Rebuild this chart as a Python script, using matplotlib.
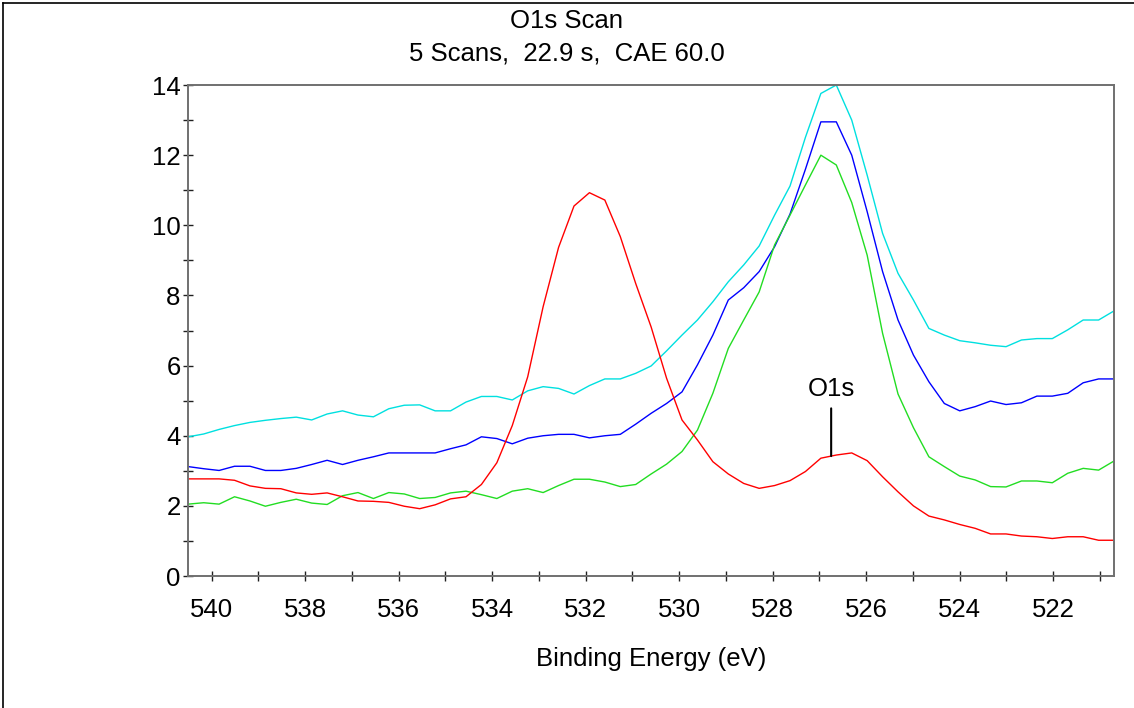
import numpy as np
import matplotlib
matplotlib.use("Agg")
import matplotlib.pyplot as plt
from matplotlib.lines import Line2D
from matplotlib.ticker import MultipleLocator

plt.rcParams['font.family'] = ['Liberation Sans', 'DejaVu Sans']

# Binding energy grid (eV), 0.33 eV steps
energy = [540.50, 540.17, 539.84, 539.51, 539.18, 538.85, 538.52, 538.19, 537.86, 537.53,
          537.20, 536.87, 536.54, 536.21, 535.88, 535.55, 535.22, 534.89, 534.56, 534.23,
          533.90, 533.57, 533.24, 532.91, 532.58, 532.25, 531.92, 531.59, 531.26, 530.93,
          530.60, 530.27, 529.94, 529.61, 529.28, 528.95, 528.62, 528.29, 527.96, 527.63,
          527.30, 526.97, 526.64, 526.31, 525.98, 525.65, 525.32, 524.99, 524.66, 524.33,
          524.00, 523.67, 523.34, 523.01, 522.68, 522.35, 522.02, 521.69, 521.36, 521.03,
          520.70]

# intensities
cyan_counts = [3.97, 4.05, 4.18, 4.29, 4.38, 4.44, 4.49, 4.53, 4.45, 4.62,
               4.71, 4.59, 4.54, 4.77, 4.87, 4.88, 4.71, 4.71, 4.96, 5.12,
               5.12, 5.02, 5.28, 5.40, 5.35, 5.19, 5.43, 5.62, 5.62, 5.78,
               5.99, 6.42, 6.87, 7.30, 7.82, 8.39, 8.87, 9.41, 10.29, 11.12,
               12.51, 13.76, 14.00, 13.00, 11.43, 9.77, 8.63, 7.87, 7.06, 6.87,
               6.71, 6.65, 6.58, 6.54, 6.73, 6.77, 6.77, 7.02, 7.30, 7.30,
               7.56]
blue_counts = [3.12, 3.06, 3.01, 3.13, 3.13, 3.01, 3.01, 3.07, 3.18, 3.30,
               3.18, 3.30, 3.40, 3.51, 3.51, 3.51, 3.51, 3.63, 3.74, 3.97,
               3.92, 3.77, 3.93, 4.00, 4.04, 4.04, 3.94, 4.00, 4.04, 4.33,
               4.64, 4.92, 5.25, 6.02, 6.87, 7.87, 8.22, 8.68, 9.39, 10.32,
               11.60, 12.95, 12.95, 12.00, 10.39, 8.68, 7.30, 6.30, 5.54, 4.92,
               4.71, 4.83, 4.99, 4.89, 4.94, 5.13, 5.13, 5.21, 5.51, 5.62,
               5.62]
green_counts = [2.05, 2.09, 2.05, 2.26, 2.14, 1.99, 2.10, 2.19, 2.08, 2.04,
                2.29, 2.38, 2.21, 2.38, 2.34, 2.21, 2.24, 2.37, 2.42, 2.32,
                2.21, 2.42, 2.49, 2.38, 2.58, 2.76, 2.76, 2.68, 2.55, 2.61,
                2.91, 3.19, 3.55, 4.16, 5.21, 6.49, 7.30, 8.10, 9.44, 10.29,
                11.15, 12.00, 11.72, 10.65, 9.15, 6.92, 5.19, 4.23, 3.40, 3.12,
                2.85, 2.74, 2.55, 2.54, 2.71, 2.71, 2.66, 2.93, 3.07, 3.02,
                3.28]
red_counts = [2.77, 2.77, 2.77, 2.73, 2.57, 2.50, 2.49, 2.37, 2.33, 2.37,
              2.26, 2.14, 2.13, 2.10, 1.99, 1.92, 2.03, 2.20, 2.26, 2.61,
              3.23, 4.29, 5.68, 7.68, 9.37, 10.55, 10.93, 10.72, 9.68, 8.34,
              7.10, 5.64, 4.45, 3.88, 3.26, 2.91, 2.64, 2.50, 2.58, 2.72,
              2.98, 3.36, 3.45, 3.51, 3.29, 2.83, 2.40, 2.00, 1.71, 1.60,
              1.47, 1.36, 1.20, 1.20, 1.14, 1.12, 1.07, 1.12, 1.12, 1.02,
              1.02]

peak_label = 'O1s'
peak_energy = 526.75

fs = 18.5

fig = plt.figure(figsize=(11.34, 7.08), dpi=100)
ax = fig.add_axes([0.166, 0.1864, 0.8164, 0.6935])

ax.plot(energy, cyan_counts, color='#00e0e0', lw=1.0)
ax.plot(energy, blue_counts, color='#0000ff', lw=1.0)
ax.plot(energy, green_counts, color='#22dd22', lw=1.0)
ax.plot(energy, red_counts, color='#ff0000', lw=1.0)

# peak marker on the red spectrum
peak_y = np.interp(peak_energy, energy[::-1], red_counts[::-1])
ax.annotate(peak_label, xy=(peak_energy, peak_y), xytext=(0, 48),
            textcoords='offset points', ha='center', va='center', fontsize=fs,
            arrowprops=dict(arrowstyle='-', color='black', lw=1.5,
                            shrinkA=3, shrinkB=0))

ax.set_xlim(540.5, 520.7)
ax.set_ylim(0, 14)
ax.xaxis.set_major_locator(MultipleLocator(2))
ax.xaxis.set_minor_locator(MultipleLocator(1))
ax.yaxis.set_major_locator(MultipleLocator(2))
ax.yaxis.set_minor_locator(MultipleLocator(1))
ax.tick_params(axis='both', which='both', direction='inout', length=7,
               width=1.0, color='#202020', labelsize=fs)
ax.tick_params(axis='x', which='major', pad=12)
ax.tick_params(axis='y', which='major', pad=2)
for side in ['left', 'right', 'top', 'bottom']:
    ax.spines[side].set_color('#707070')
    ax.spines[side].set_linewidth(1.4)

ax.set_xlabel('Binding Energy (eV)', fontsize=fs, labelpad=18)

fig.text(0.5, 0.971, 'O1s Scan', ha='center', va='center', fontsize=fs)
fig.text(0.5, 0.925, '5 Scans,  22.9 s,  CAE 60.0', ha='center', va='center', fontsize=fs)

# window frame
fig.add_artist(Line2D([0.0026, 0.0026], [0, 0.996], color='black', lw=1.2))
fig.add_artist(Line2D([0.0026, 1], [0.996, 0.996], color='black', lw=1.2))

fig.savefig('out.png', dpi=100)
